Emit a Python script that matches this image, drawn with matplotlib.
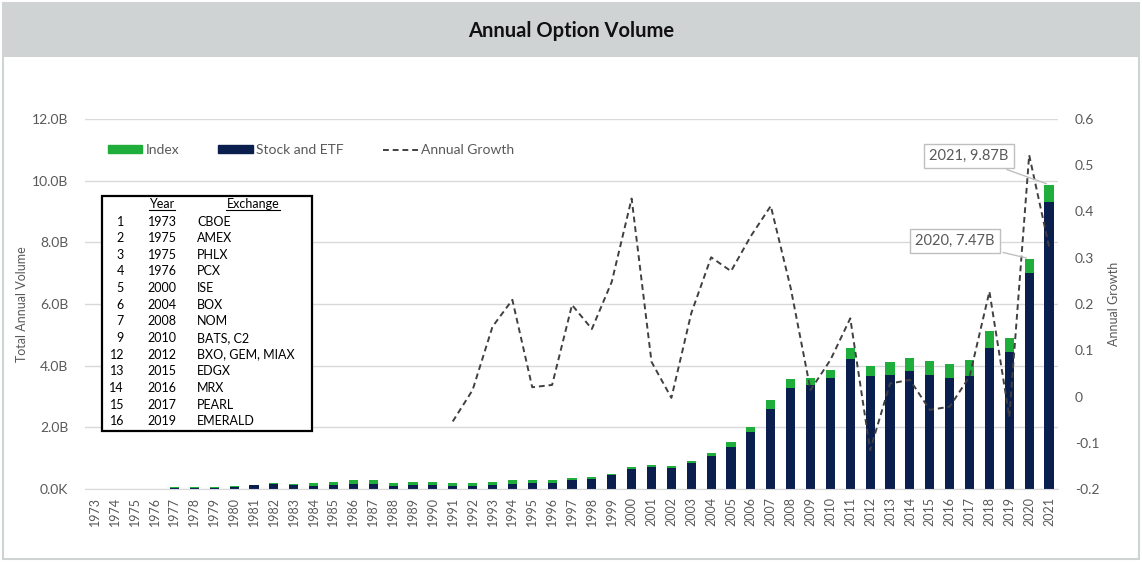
import numpy as np
import matplotlib.pyplot as plt
from matplotlib.patches import Rectangle
from matplotlib.lines import Line2D

plt.rcParams['font.family'] = ['Lato', 'DejaVu Sans']

years = list(range(1973, 2022))

# billions of contracts
stock_etf = [0, 0, 0, 0, 0.04, 0.04, 0.04, 0.08, 0.12, 0.15, 0.13, 0.10,
             0.13, 0.16, 0.16, 0.10, 0.13, 0.13, 0.10, 0.10, 0.13, 0.16,
             0.19, 0.19, 0.29, 0.32, 0.45, 0.66, 0.72, 0.69, 0.83, 1.07,
             1.37, 1.84, 2.59, 3.27, 3.37, 3.61, 4.23, 3.66, 3.70, 3.84,
             3.70, 3.61, 3.66, 4.56, 4.43, 7.02, 9.32]
index = [0, 0, 0, 0, 0.01, 0.01, 0.01, 0.02, 0.02, 0.04, 0.03, 0.08,
         0.09, 0.13, 0.13, 0.08, 0.09, 0.09, 0.08, 0.08, 0.09, 0.13,
         0.10, 0.10, 0.07, 0.07, 0.04, 0.06, 0.07, 0.07, 0.08, 0.11,
         0.14, 0.17, 0.29, 0.30, 0.24, 0.26, 0.33, 0.32, 0.41, 0.41,
         0.44, 0.43, 0.51, 0.57, 0.46, 0.45, 0.55]
growth = [np.nan] * 18 + [
    -0.054, 0.014, 0.151, 0.209, 0.020, 0.025, 0.198, 0.146, 0.248, 0.428,
    0.075, -0.003, 0.180, 0.301, 0.271, 0.347, 0.412, 0.235, 0.014, 0.079,
    0.169, -0.116, 0.028, 0.036, -0.029, -0.022, 0.043, 0.227, -0.044,
    0.522, 0.324]

exch_num = ['1', '2', '3', '4', '5', '6', '7', '9', '12', '13', '14', '15', '16']
exch_year = ['1973', '1975', '1975', '1976', '2000', '2004', '2008', '2010',
             '2012', '2015', '2016', '2017', '2019']
exch_name = ['CBOE', 'AMEX', 'PHLX', 'PCX', 'ISE', 'BOX', 'NOM', 'BATS, C2',
             'BXO, GEM, MIAX', 'EDGX', 'MRX', 'PEARL', 'EMERALD']

green = '#1fae3c'
navy = '#0b1f4e'
grey_txt = '#595959'

W, H = 1142, 562
fig = plt.figure(figsize=(W / 100, H / 100), dpi=100)

def fx(px):
    return px / W

def fy(py):
    return 1 - py / H

# frame and title band
fig.patches.append(Rectangle((fx(3), fy(559)), fx(1136), 556 / H, transform=fig.transFigure,
                             facecolor='white', edgecolor='#d0d3d4', lw=1.5, zorder=-3))
fig.patches.append(Rectangle((fx(3), fy(57)), fx(1136), 54 / H, transform=fig.transFigure,
                             facecolor='#d0d3d4', edgecolor='none', zorder=-2))
fig.text(0.5, fy(31), 'Annual Option Volume', ha='center', va='center',
         fontsize=14.5, fontweight='bold', color='#111111')

ax = fig.add_axes([fx(85), fy(489), fx(1058 - 85), (489 - 119) / H])
ax.patch.set_alpha(0)
x = np.arange(len(years))
bw = 0.46
ax.bar(x, stock_etf, bw, color=navy, zorder=2)
ax.bar(x, index, bw, bottom=stock_etf, color=green, zorder=2)

ax.set_xlim(-0.5, len(years) - 0.55)
ax.set_ylim(0, 12)
ax.set_yticks(np.arange(0, 13, 2))
ax.set_yticklabels(['0.0K'] + ['%.1fB' % v for v in np.arange(2, 13, 2)])
ax.set_xticks(x)
ax.set_xticklabels([str(y) for y in years], rotation=90)
ax.grid(axis='y', color='#d9d9d9', lw=1, zorder=0)
ax.set_axisbelow(True)
for s in ['top', 'right', 'left']:
    ax.spines[s].set_visible(False)
ax.spines['bottom'].set_color('#d9d9d9')
ax.tick_params(length=0, colors=grey_txt, labelsize=10)
ax.tick_params(axis='y', pad=12)
ax.tick_params(axis='x', labelsize=9, pad=6)
ax.set_ylabel('Total Annual Volume', color=grey_txt, fontsize=9, labelpad=3)

ax2 = ax.twinx()
ax2.plot(x, growth, ls=(0, (3, 2)), color='#404040', lw=1.4, zorder=3)
ax2.set_ylim(-0.2, 0.6)
ax2.set_yticks(np.arange(-0.2, 0.61, 0.1))
ax2.set_yticklabels(['-0.2', '-0.1', '0', '0.1', '0.2', '0.3', '0.4', '0.5', '0.6'])
for s in ax2.spines.values():
    s.set_visible(False)
ax2.tick_params(length=0, colors=grey_txt, labelsize=10, pad=12)
ax2.set_ylabel('Annual Growth', color=grey_txt, fontsize=9, labelpad=6)

# annotations
tot = np.array(stock_etf) + np.array(index)
ax2.annotate('2021, 9.87B', xy=(x[-1], tot[-1]), xycoords=ax.transData,
             xytext=(fx(969), fy(156)), textcoords='figure fraction',
             ha='center', va='center', fontsize=10.5, color=grey_txt,
             bbox=dict(boxstyle='square,pad=0.35', fc='white', ec='#bfbfbf', lw=1),
             arrowprops=dict(arrowstyle='-', color='#bfbfbf', lw=1), zorder=5)
ax2.annotate('2020, 7.47B', xy=(x[-2], tot[-2]), xycoords=ax.transData,
             xytext=(fx(955), fy(241)), textcoords='figure fraction',
             ha='center', va='center', fontsize=10.5, color=grey_txt,
             bbox=dict(boxstyle='square,pad=0.35', fc='white', ec='#bfbfbf', lw=1),
             arrowprops=dict(arrowstyle='-', color='#bfbfbf', lw=1), zorder=5)

# legend
handles = [Rectangle((0, 0), 1, 1, color=green), Rectangle((0, 0), 1, 1, color=navy),
           Line2D([], [], ls=(0, (3, 2)), color='#404040', lw=1.4)]
fig.legend(handles, ['Index', 'Stock and ETF', 'Annual Growth'], loc='center left',
           bbox_to_anchor=(fx(95), fy(150)), ncol=3, frameon=False, fontsize=10,
           labelcolor=grey_txt, handlelength=2.5, handleheight=0.5, columnspacing=2.8,
           handletextpad=0.25)

# exchange table
fig.patches.append(Rectangle((fx(102), fy(431)), fx(210), 235 / H, transform=fig.transFigure,
                             facecolor='white', edgecolor='black', lw=1.6, zorder=4))
fs = 9
fig.text(fx(162), fy(204), 'Year', ha='center', va='center', fontsize=fs, zorder=5)
fig.text(fx(253), fy(204), 'Exchange', ha='center', va='center', fontsize=fs, zorder=5)
fig.add_artist(Line2D([fx(149), fx(175)], [fy(210), fy(210)], color='black', lw=0.8, zorder=5))
fig.add_artist(Line2D([fx(226), fx(280)], [fy(210), fy(210)], color='black', lw=0.8, zorder=5))
for i in range(len(exch_num)):
    yy = fy(221.5 + i * 16.64)
    fig.text(fx(124), yy, exch_num[i], ha='right', va='center', fontsize=fs, zorder=5)
    fig.text(fx(162), yy, exch_year[i], ha='center', va='center', fontsize=fs, zorder=5)
    fig.text(fx(197), yy, exch_name[i], ha='left', va='center', fontsize=fs, zorder=5)

fig.savefig('out.png', dpi=100)
